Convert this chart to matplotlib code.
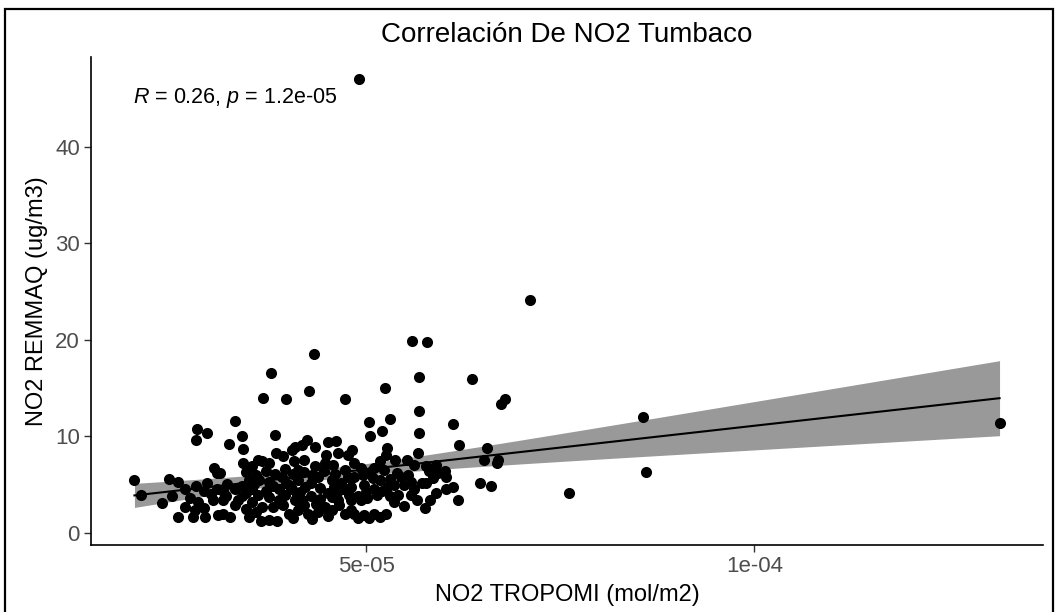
import numpy as np
import matplotlib
matplotlib.use("Agg")
import matplotlib.pyplot as plt
from matplotlib.patches import Rectangle

plt.rcParams['font.family'] = ['Liberation Sans', 'DejaVu Sans']
plt.rcParams['mathtext.fontset'] = 'custom'
plt.rcParams['mathtext.rm'] = 'Liberation Sans'
plt.rcParams['mathtext.it'] = 'Liberation Sans:italic'

# NO2 TROPOMI column (in units of 1e-05 mol/m2) and NO2 REMMAQ surface values (ug/m3)
tropomi_e5 = [
    4.91, 7.11, 5.59, 5.78, 4.32, 3.77, 5.68, 6.36, 5.24, 4.26, 3.67, 3.96, 4.72, 6.73, 6.79,
    5.68, 8.57, 5.30, 5.03, 6.12, 13.16, 3.30, 2.81, 2.94, 5.20, 5.68, 3.82, 3.40, 5.05,
    2.80, 3.23, 4.23, 4.51, 4.61, 6.19, 3.41, 4.08, 4.17, 4.34, 4.82, 5.27, 6.55, 4.04, 3.83,
    3.93, 4.48, 4.63, 4.76, 5.25, 5.67,
    3.60, 3.66, 3.74, 3.41, 3.53, 4.06, 4.19, 4.46, 4.57, 4.34, 5.37, 5.52, 5.18, 5.61, 4.84,
    4.93, 5.10, 5.23, 5.77, 5.90, 5.80, 5.92, 6.01, 6.51, 6.70, 6.68, 3.03, 3.07, 3.11, 4.12,
    8.60, 5.54, 4.95,
    2.01, 2.45, 2.57, 2.66, 2.80, 2.90, 3.07, 3.15, 3.49, 3.62, 3.74, 3.53, 3.70, 3.87, 3.91,
    3.96, 4.04, 4.12, 4.21, 4.29, 4.38, 4.55, 4.67, 4.76, 4.51, 4.63, 4.84, 5.08, 5.18, 4.80,
    4.97, 5.10, 5.27, 5.35, 5.44, 5.48, 5.58, 5.61, 5.86, 5.77, 6.03, 5.71, 6.11, 6.47, 6.60,
    6.03, 5.90, 7.61,
    2.10, 2.36, 2.50, 2.73, 2.83, 2.66, 2.79, 2.90, 3.02, 3.15, 3.19, 3.34, 3.39, 3.53, 3.66,
    3.79, 3.87, 4.00, 4.12, 4.25, 4.38, 4.17, 4.29, 4.46, 4.08, 4.63, 4.80, 4.72, 4.78, 4.89,
    5.01, 5.14, 5.31, 5.41, 5.58, 5.65, 6.18, 4.80, 4.93, 5.48, 5.76, 5.82, 3.09, 3.15, 3.24,
    4.84, 4.97, 5.10, 5.25,
    2.57, 2.77, 2.92, 3.64, 3.74, 3.85, 4.89, 5.03, 5.18,
    3.45, 3.58, 3.70, 3.82, 3.95, 4.05, 4.20, 4.30, 4.45, 4.60, 4.72, 3.40, 3.55, 3.80, 4.00,
    4.15, 4.40, 4.58, 4.70, 3.30, 3.45, 3.60, 3.75, 3.95, 4.10, 4.40, 4.55, 3.30, 3.45, 3.58,
    3.92, 4.20, 4.35, 4.55, 4.65, 3.48, 4.05, 4.30, 4.50, 3.20, 2.95, 3.00, 5.00, 5.20, 5.35,
    5.40, 5.05, 5.30,
]
remmaq = [
    47.0, 24.1, 19.9, 19.8, 18.5, 16.6, 16.2, 15.9, 15.0, 14.7, 14.0, 13.9, 13.9, 13.4, 13.9,
    12.6, 12.0, 11.8, 11.5, 11.3, 11.4, 11.6, 10.8, 10.4, 10.6, 10.3, 10.1, 10.0, 10.0,
    9.6, 9.2, 9.6, 9.4, 9.5, 9.1, 8.7, 8.9, 9.1, 8.9, 8.6, 8.8, 8.8, 8.6, 8.3,
    8.0, 8.1, 8.3, 8.1, 8.1, 8.3,
    7.6, 7.4, 7.2, 7.2, 6.9, 7.4, 7.6, 7.2, 7.0, 6.9, 7.6, 7.6, 7.4, 7.0, 7.2,
    6.7, 6.7, 6.5, 6.9, 7.0, 6.4, 6.2, 6.4, 7.6, 7.6, 7.2, 6.7, 6.2, 6.2, 6.5,
    6.3, 6.0, 6.0,
    5.5, 5.6, 5.25, 4.5, 4.9, 4.3, 4.6, 4.3, 5.5, 5.5, 5.3, 4.6, 4.3, 4.5, 5.8,
    5.2, 4.5, 5.5, 4.8, 5.2, 5.8, 5.5, 5.2, 5.8, 4.1, 4.3, 5.8, 5.7, 5.5, 4.8,
    5.0, 4.6, 4.8, 5.0, 5.8, 5.0, 5.3, 4.6, 5.7, 5.2, 5.8, 5.2, 4.8, 5.2, 4.9,
    4.5, 4.1, 4.1,
    3.94, 3.1, 3.8, 3.6, 3.2, 2.7, 2.4, 2.6, 3.4, 3.4, 3.8, 3.4, 3.8, 3.2, 2.7,
    2.7, 3.4, 2.0, 2.4, 2.0, 2.2, 3.4, 3.8, 2.7, 3.4, 3.4, 2.4, 2.0, 3.9, 3.8,
    3.6, 3.9, 3.8, 3.9, 3.9, 3.4, 3.4, 3.4, 3.4, 2.8, 2.6, 3.4, 1.9, 2.0, 1.7,
    2.0, 1.9, 2.0, 2.0,
    1.6, 1.7, 1.6, 1.2, 1.35, 1.2, 1.5, 1.5, 1.7,
    6.3, 6.0, 6.4, 6.1, 6.6, 6.1, 6.3, 6.0, 6.4, 6.1, 6.5, 4.9, 5.1, 4.9, 5.0,
    4.2, 4.7, 4.8, 4.6, 4.5, 4.1, 3.9, 3.7, 3.9, 3.9, 3.5, 3.7, 2.9, 2.5, 2.2,
    2.9, 2.9, 3.0, 2.4, 2.9, 1.6, 1.5, 1.4, 1.8, 5.1, 5.2, 4.0, 4.2, 4.3, 3.2,
    6.2, 6.3, 5.6,
]

x = np.array(tropomi_e5) * 1e-5
y = np.array(remmaq)

# linear fit + 95% confidence band
slope, intercept = np.polyfit(x, y, 1)
n = len(x)
resid = y - (slope * x + intercept)
s = np.sqrt(np.sum(resid ** 2) / (n - 2))
xfit = np.linspace(x.min(), x.max(), 80)
yfit = slope * xfit + intercept
se = s * np.sqrt(1.0 / n + (xfit - x.mean()) ** 2 / np.sum((x - x.mean()) ** 2))
tval = 1.969

fig = plt.figure(figsize=(10.57, 6.12), dpi=100)
ax = fig.add_axes([91 / 1057, 1 - 545 / 612, (1043 - 91) / 1057, (545 - 57) / 612])

ax.fill_between(xfit, yfit - tval * se, yfit + tval * se, color='#999999', lw=0, zorder=1)
ax.plot(xfit, yfit, color='black', lw=1.5, zorder=2)
ax.scatter(x, y, s=64, color='black', lw=0, zorder=3)

ax.set_xlim(1.45e-05, 13.72e-05)
ax.set_ylim(-1.25, 49.3)
ax.set_xticks([5e-05, 1e-04])
ax.set_xticklabels(['5e-05', '1e-04'])
ax.set_yticks([0, 10, 20, 30, 40])

for side in ['top', 'right']:
    ax.spines[side].set_visible(False)
for side in ['left', 'bottom']:
    ax.spines[side].set_linewidth(1.2)
    ax.spines[side].set_color('black')
ax.tick_params(direction='out', length=5, width=1, color='#333333',
               labelcolor='#4D4D4D', labelsize=16, pad=3)

ax.set_xlabel('NO2 TROPOMI (mol/m2)', fontsize=17, labelpad=5)
ax.set_ylabel('NO2 REMMAQ (ug/m3)', fontsize=17, labelpad=5)
ax.set_title('Correlación De NO2 Tumbaco', fontsize=20, pad=11)

ax.text(0.044, 0.916, r'$\it{R}$ = 0.26, $\it{p}$ = 1.2e-05', transform=ax.transAxes,
        fontsize=15.5, color='black', ha='left', va='center')

# outer frame of the original export
fig.add_artist(Rectangle((5 / 1057, -0.01), 1048 / 1057, 1.01 - 9 / 612,
                         transform=fig.transFigure, fill=False, lw=1.6, color='black'))

fig.savefig('out.png', dpi=100)
